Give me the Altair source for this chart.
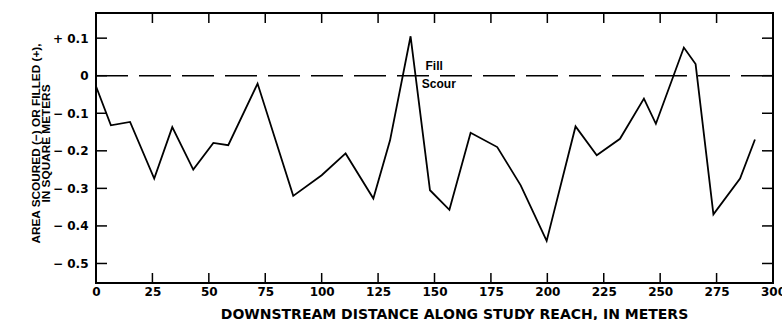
import altair as alt
import pandas as pd

# Data
dist = [0, 6.6, 15.1, 25.8, 33.8, 43.1, 52.0, 58.6, 71.6, 87.4, 100.0, 110.6, 122.9,
        130.3, 139.4, 148.0, 156.6, 166.0, 177.8, 188.2, 199.7, 212.5, 221.9, 232.2,
        242.8, 248.1, 260.5, 265.7, 273.6, 285.4, 292.0]
area = [-0.028, -0.132, -0.123, -0.274, -0.137, -0.25, -0.179, -0.185, -0.021, -0.32,
        -0.265, -0.207, -0.327, -0.172, 0.105, -0.305, -0.357, -0.152, -0.19, -0.292,
        -0.44, -0.135, -0.212, -0.168, -0.061, -0.128, 0.075, 0.031, -0.369, -0.274, -0.17]
x_ticks = [0, 25, 50, 75, 100, 125, 150, 175, 200, 225, 250, 275, 300]
y_ticks = [0.1, 0.0, -0.1, -0.2, -0.3, -0.4, -0.5]
note_text = ["Fill", "Scour"]
note_x = [146.0, 144.4]
note_y = [0.026, -0.022]

W, H = 677, 270
FONT = "DejaVu Sans"

xscale = alt.Scale(domain=[0, 300], nice=False, zero=False)
yscale = alt.Scale(domain=[-0.552, 0.167], nice=False, zero=False)

line_df = pd.DataFrame({"x": dist, "y": area})
xt_df = pd.DataFrame({"x": x_ticks})
yt_df = pd.DataFrame({"y": y_ticks})
zero_df = pd.DataFrame({"y": [0.0]})
note_df = pd.DataFrame({"x": note_x, "y": note_y, "t": note_text})

ylab = ("datum.value > 0.001 ? '+ ' + format(datum.value, '.1f') : "
        "(datum.value < -0.001 ? '\u2212 ' + format(-datum.value, '.1f') : '0')")

X_AX = alt.Axis(values=x_ticks, ticks=False, domain=False, grid=False,
                labelFont=FONT, labelFontWeight="bold", labelFontSize=12,
                labelColor="black", labelPadding=3, labelFlush=False,
                title="DOWNSTREAM DISTANCE ALONG STUDY REACH, IN METERS",
                titleFont=FONT, titleFontWeight="bold", titleFontSize=14,
                titleColor="black", titleX=358, titleY=31,
                titleAlign="center", titleBaseline="middle")
Y_AX = alt.Axis(values=y_ticks, ticks=False, domain=False, grid=False,
                labelExpr=ylab, labelFont=FONT, labelFontWeight="bold",
                labelFontSize=12, labelColor="black", labelPadding=8,
                title=["AREA SCOURED (\u2212) OR FILLED (+),", "IN SQUARE METERS"],
                titleFont="Liberation Sans", titleFontWeight="bold",
                titleFontSize=11.8, titleColor="black", titleLineHeight=10,
                titleAngle=270, titleX=-61, titleY=130,
                titleAlign="center", titleBaseline="middle")

line = alt.Chart(line_df).mark_line(color="black", strokeWidth=1.8).encode(
    x=alt.X("x:Q", scale=xscale, axis=X_AX),
    y=alt.Y("y:Q", scale=yscale, axis=Y_AX),
)

zero = alt.Chart(zero_df).mark_rule(color="black", strokeWidth=1.5, strokeDash=[32, 11]).encode(
    y=alt.Y("y:Q", scale=yscale, axis=Y_AX)
)

tick_b = alt.Chart(xt_df).mark_rule(color="black", strokeWidth=1.5).encode(
    x=alt.X("x:Q", scale=xscale, axis=X_AX), y=alt.value(H), y2=alt.value(H - 10))
tick_t = alt.Chart(xt_df).mark_rule(color="black", strokeWidth=1.5).encode(
    x=alt.X("x:Q", scale=xscale, axis=X_AX), y=alt.value(0), y2=alt.value(10))
tick_l = alt.Chart(yt_df).mark_rule(color="black", strokeWidth=1.5).encode(
    y=alt.Y("y:Q", scale=yscale, axis=Y_AX), x=alt.value(0), x2=alt.value(11))
tick_r = alt.Chart(yt_df).mark_rule(color="black", strokeWidth=1.5).encode(
    y=alt.Y("y:Q", scale=yscale, axis=Y_AX), x=alt.value(W), x2=alt.value(W - 11))

notes = alt.Chart(note_df).mark_text(align="left", baseline="middle", font="Liberation Sans",
                                     fontWeight="bold", fontSize=12, color="black").encode(
    x=alt.X("x:Q", scale=xscale, axis=X_AX),
    y=alt.Y("y:Q", scale=yscale, axis=Y_AX),
    text="t:N",
)

chart = alt.layer(line, zero, tick_b, tick_t, tick_l, tick_r, notes).properties(
    width=W, height=H,
    autosize=alt.AutoSizeParams(type="none"),
    padding={"left": 96, "top": 13, "right": 9, "bottom": 37},
    background="white",
).configure_view(stroke="black", strokeWidth=2)

chart.save("out.html", embed_options={"renderer": "svg", "actions": False})
